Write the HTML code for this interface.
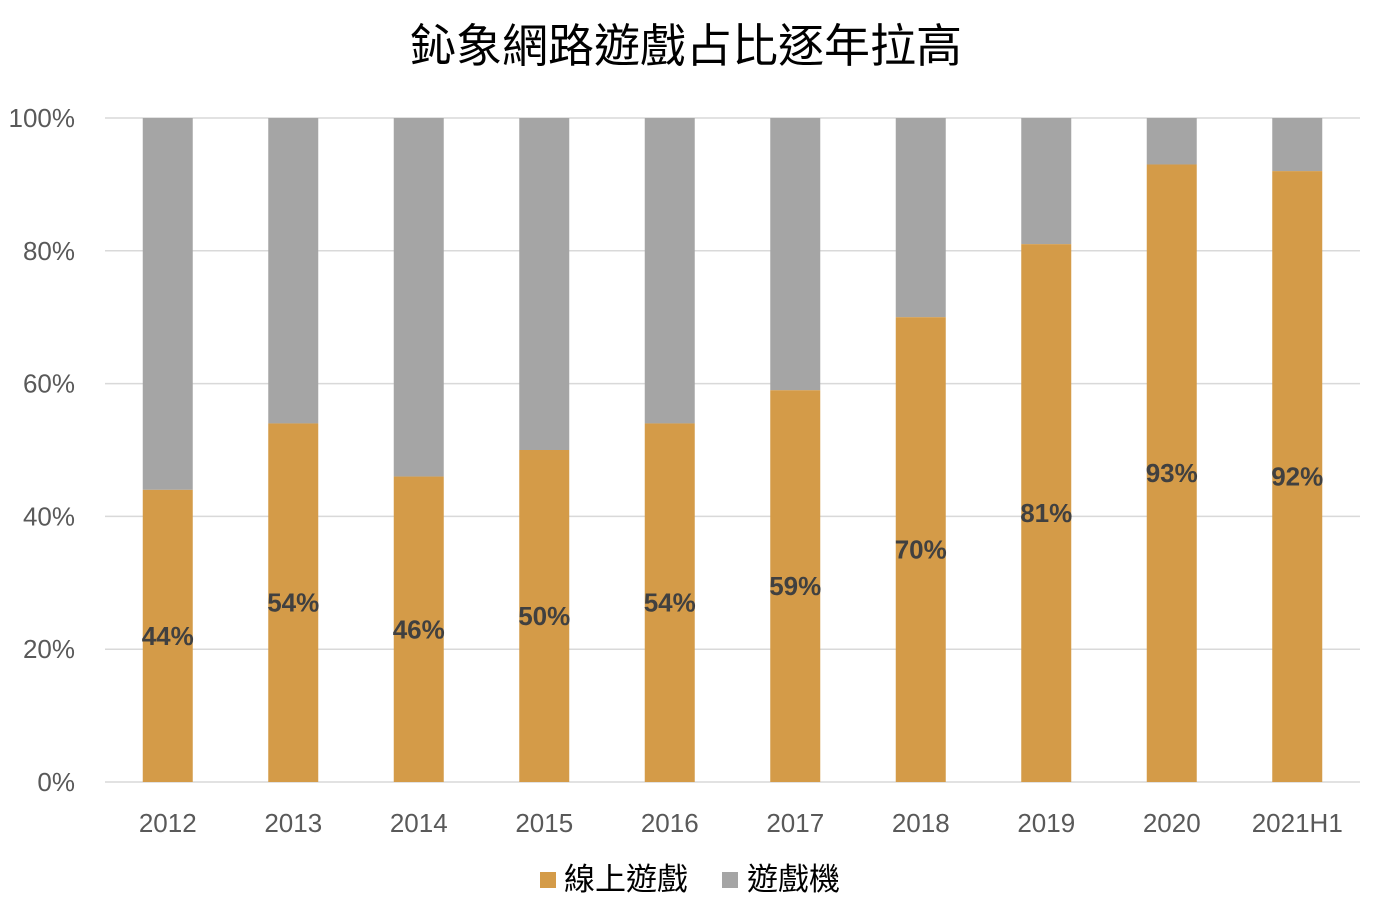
<!DOCTYPE html>
<html><head><meta charset="utf-8"><style>
html,body{margin:0;padding:0;background:#fff;}
svg{display:block;font-family:"Liberation Sans","Noto Sans CJK TC",sans-serif;}
</style></head><body>
<svg id="chart" width="1378" height="904">
<text x="686" y="62" text-anchor="middle" font-size="46" fill="#000">鈊象網路遊戲占比逐年拉高</text>
<g id="grid"></g><g id="bars"></g><g id="labels"></g>
<g>
<rect x="540" y="872" width="16" height="16" fill="#D49B48"/>
<text x="564" y="890" font-size="31" fill="#000">線上遊戲</text>
<rect x="722" y="872" width="16" height="16" fill="#A5A5A5"/>
<text x="747" y="890" font-size="31" fill="#000">遊戲機</text>
</g>
</svg>
<script>
const categories=["2012","2013","2014","2015","2016","2017","2018","2019","2020","2021H1"];
const onlineValues=[44,54,46,50,54,59,70,81,93,92];
const yTicks=[0,20,40,60,80,100];
const NS="http://www.w3.org/2000/svg";
const x0=105,x1=1360,yBottom=782,yTop=118;
const band=(x1-x0)/categories.length,barW=50;
const y=v=>yBottom-(v/100)*(yBottom-yTop);
const xc=i=>x0+band*(i+0.5);
function mk(tag,attrs,parent,text){const e=document.createElementNS(NS,tag);for(const k in attrs)e.setAttribute(k,attrs[k]);if(text!==undefined)e.textContent=text;parent.appendChild(e);return e;}
const grid=document.getElementById('grid'),bars=document.getElementById('bars'),labels=document.getElementById('labels');
yTicks.forEach(t=>{
 const l=mk('line',{x1:x0,x2:x1,y1:y(t),y2:y(t),stroke:'#D9D9D9','stroke-width':1.5},grid);
 
 
 const tx=mk('text',{x:75,y:y(t)+9,'text-anchor':'end','font-size':26,fill:'#595959'},grid,t+'%');
 
 
});
categories.forEach((c,i)=>{
 const v=onlineValues[i],cx=xc(i);
 const g=mk('rect',{x:cx-barW/2,y:y(100),width:barW,height:y(v)-y(100),fill:'#A5A5A5'},bars);
 
 
 const o=mk('rect',{x:cx-barW/2,y:y(v),width:barW,height:yBottom-y(v),fill:'#D49B48'},bars);
 
 
 const vl=mk('text',{x:cx,y:y(v/2)+9,'text-anchor':'middle','font-size':26,'font-weight':600,fill:'#404040'},labels,v+'%');
 
 
 const xl=mk('text',{x:cx,y:832,'text-anchor':'middle','font-size':26,fill:'#595959'},labels,c);
 
 
});
</script>
</body></html>
